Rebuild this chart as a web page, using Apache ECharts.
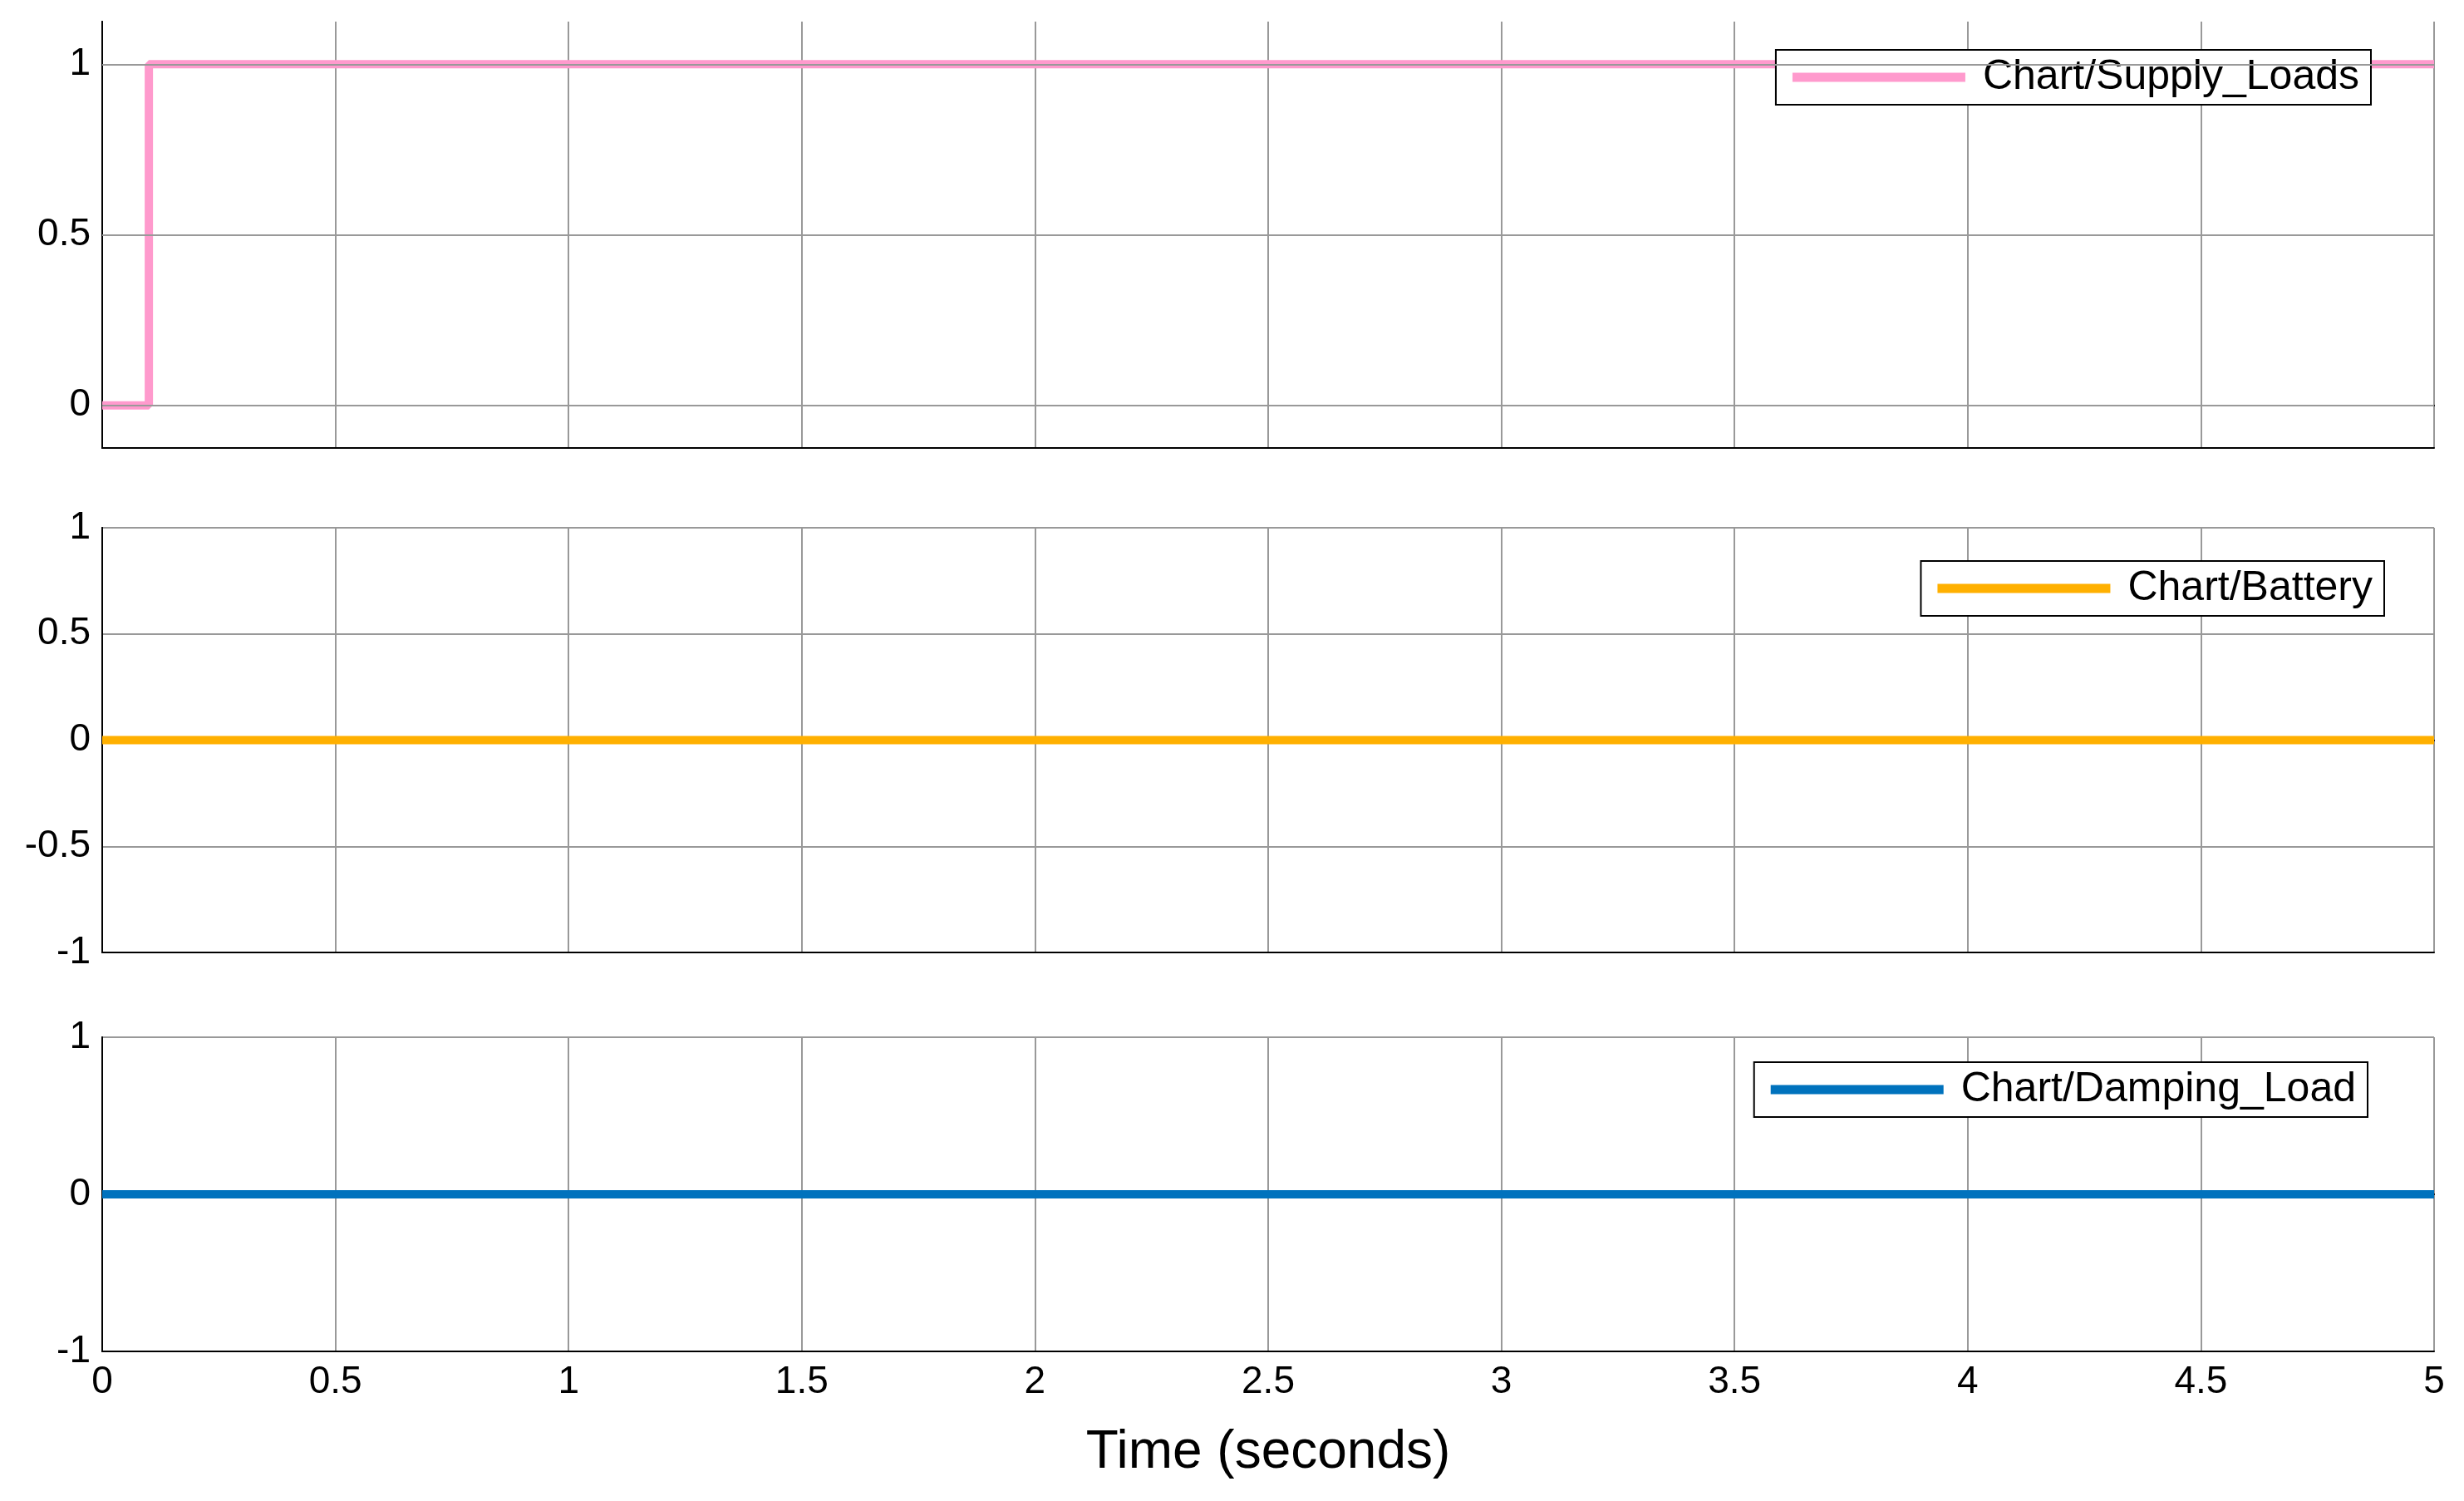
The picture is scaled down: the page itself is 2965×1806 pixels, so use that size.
<!DOCTYPE html>
<html>
<head>
<meta charset="utf-8">
<script src="https://cdn.jsdelivr.net/npm/echarts@6/dist/echarts.min.js"></script>
<style>html,body{margin:0;background:#fff}#c{width:2965px;height:1806px}</style>
</head>
<body>
<div id="c"></div>
<script>
// signal data (time in seconds, value)
const supplyLoads = [[0, 0], [0.1, 0], [0.1, 1], [5, 1]];
const battery = [[0, 0], [5, 0]];
const dampingLoad = [[0, 0], [5, 0]];
const names = ["Chart/Supply_Loads", "Chart/Battery", "Chart/Damping_Load"];
const colors = ["#FF9ACD", "#FFB000", "#0072BD"];
const panel1Ticks = [0, 0.5, 1];

const chart = echarts.init(document.getElementById("c"));
const font = "Arial, Liberation Sans, sans-serif";
const grids = [
  { left: 123, right: 36, top: 26, height: 513 },
  { left: 123, right: 36, top: 635, height: 511 },
  { left: 123, right: 36, top: 1248, height: 378 }
];
const black = { show: true, lineStyle: { color: "#000", width: 2 } };

function xAxis(i, last) {
  return {
    type: "value", gridIndex: i, min: 0, max: 5, interval: 0.5,
    axisLine: black, axisTick: { show: false },
    axisLabel: { show: last, fontSize: 46, color: "#000", fontFamily: font, margin: 14 },
    splitLine: { show: true, lineStyle: { color: "#999", width: 2 } },
    name: last ? "Time (seconds)" : "", nameLocation: "middle", nameGap: 90,
    nameTextStyle: { fontSize: 64, color: "#000", fontFamily: font }
  };
}
function topAxis(i) {
  return { type: "value", gridIndex: i, position: "top", min: 0, max: 5, axisLine: black,
    axisTick: { show: false }, axisLabel: { show: false }, splitLine: { show: false } };
}
function rightAxis(i) {
  return { type: "value", gridIndex: i, position: "right", min: 0, max: 1, axisLine: black,
    axisTick: { show: false }, axisLabel: { show: false }, splitLine: { show: false } };
}

const ycommon = {
  type: "value", axisLine: black, axisTick: { show: false },
  axisLabel: { fontSize: 46, color: "#000", fontFamily: font, margin: 14 },
  splitLine: { show: true, lineStyle: { color: "#999", width: 2 } }
};

function legend(i, top, right) {
  return {
    data: [names[i]], top: top, right: right, orient: "horizontal",
    backgroundColor: "#fff", borderColor: "#000", borderWidth: 2, padding: [8, 14, 8, 20],
    itemWidth: 208, itemHeight: 11,
    textStyle: { fontSize: 50, color: "#000", fontFamily: font, padding: [0, 0, 0, 16] },
    icon: "rect"
  };
}

function series(i, data) {
  return {
    name: names[i], type: "line", xAxisIndex: i, yAxisIndex: i, data: data,
    symbol: "none", color: colors[i], lineStyle: { width: 10, color: colors[i] },
    animation: false, z: 3
  };
}

const s1 = series(0, supplyLoads);
s1.markLine = {
  silent: true, symbol: "none", label: { show: false },
  lineStyle: { color: "#999", width: 2, type: "solid" },
  data: panel1Ticks.map(v => ({ yAxis: v }))
};

chart.setOption({
  backgroundColor: "#fff",
  grid: grids,
  xAxis: [xAxis(0, false), xAxis(1, false), xAxis(2, true), topAxis(0), topAxis(1), topAxis(2)],
  yAxis: [
    Object.assign({}, ycommon, {
      gridIndex: 0, min: -0.125, max: 1.125, interval: 0.125,
      splitLine: { show: false },
      axisLabel: Object.assign({}, ycommon.axisLabel, {
        formatter: v => (panel1Ticks.some(t => Math.abs(t - v) < 1e-6) ? String(Math.round(v * 10) / 10) : "")
      })
    }),
    Object.assign({}, ycommon, { gridIndex: 1, min: -1, max: 1, interval: 0.5 }),
    Object.assign({}, ycommon, { gridIndex: 2, min: -1, max: 1, interval: 1 }),
    rightAxis(0), rightAxis(1), rightAxis(2)
  ],
  legend: [legend(0, 60, 112), legend(1, 675, 96), legend(2, 1278, 116)],
  series: [s1, series(1, battery), series(2, dampingLoad)]
});
</script>
</body>
</html>
